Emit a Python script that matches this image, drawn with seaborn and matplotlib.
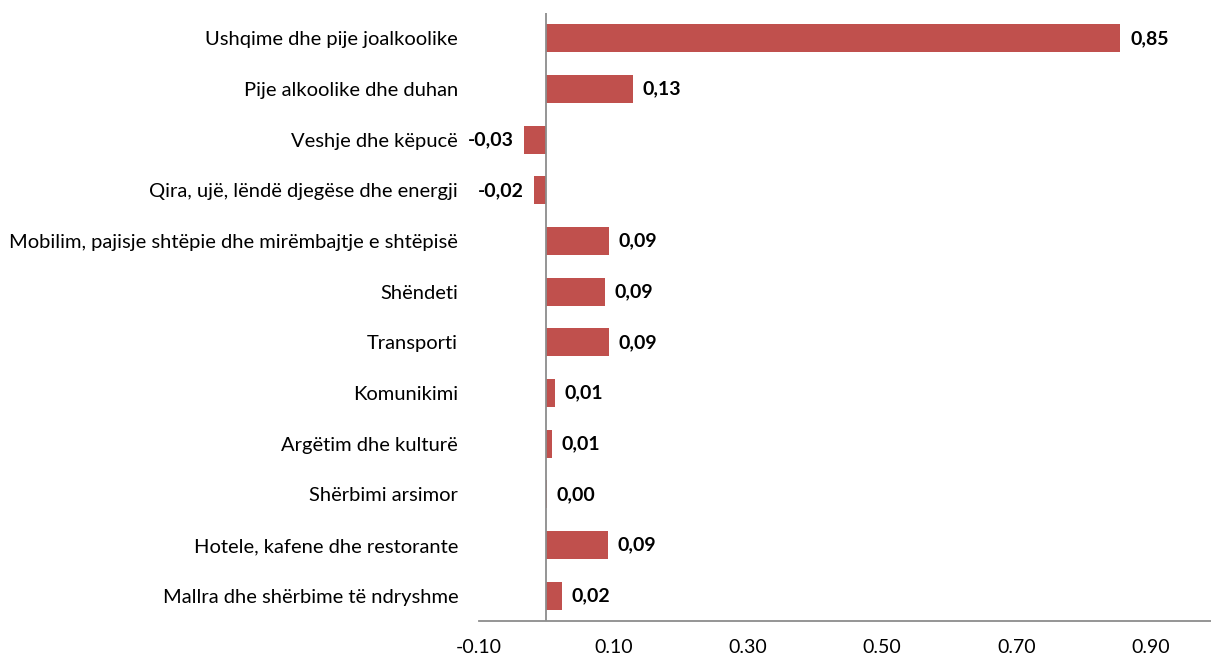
import matplotlib
matplotlib.use("Agg")
import matplotlib.pyplot as plt
import seaborn as sns

# Categories (top to bottom) and contributions
categories = [
    "Ushqime dhe pije joalkoolike",
    "Pije alkoolike dhe duhan",
    "Veshje dhe këpucë",
    "Qira, ujë, lëndë djegëse dhe energji",
    "Mobilim, pajisje shtëpie dhe mirëmbajtje e shtëpisë",
    "Shëndeti",
    "Transporti",
    "Komunikimi",
    "Argëtim dhe kulturë",
    "Shërbimi arsimor",
    "Hotele, kafene dhe restorante",
    "Mallra dhe shërbime të ndryshme",
]
values = [0.855, 0.129, -0.0335, -0.0186, 0.093, 0.087, 0.093, 0.0126, 0.0082, 0.001, 0.0915, 0.023]
value_labels = ["0,85", "0,13", "-0,03", "-0,02", "0,09", "0,09", "0,09", "0,01", "0,01", "0,00", "0,09", "0,02"]
xticks = [-0.10, 0.10, 0.30, 0.50, 0.70, 0.90]
xtick_labels = ["-0.10", "0.10", "0.30", "0.50", "0.70", "0.90"]

sns.set_style("white")
plt.rcParams["font.family"] = ["Lato", "DejaVu Sans"]

fig = plt.figure(figsize=(12.11, 6.56), dpi=100)
ax = fig.add_axes([479 / 1211, 35 / 656, 732 / 1211, 608 / 656])

sns.barplot(x=values, y=categories, orient="h", color="#C0504D",
            saturation=1, width=0.55, edgecolor="none", ax=ax)

ax.bar_label(ax.containers[0], labels=value_labels, padding=7,
             fontsize=14, fontweight="bold", color="black")

ax.set_xlim(-0.10, 0.99)
ax.set_ylim(11.5, -0.5)
ax.axvline(0, color="#8c8c8c", lw=1.3, zorder=3)

ax.set_xticks(xticks)
ax.set_xticklabels(xtick_labels, fontsize=14, color="black")
ax.tick_params(axis="x", length=0, pad=13)
ax.tick_params(axis="y", length=0, pad=15, labelsize=14.5, labelcolor="black")
ax.set_xlabel("")
ax.set_ylabel("")

for side in ["top", "right", "left"]:
    ax.spines[side].set_visible(False)
ax.spines["bottom"].set_color("#8c8c8c")
ax.spines["bottom"].set_linewidth(1.3)

fig.savefig("out.png", dpi=100)
